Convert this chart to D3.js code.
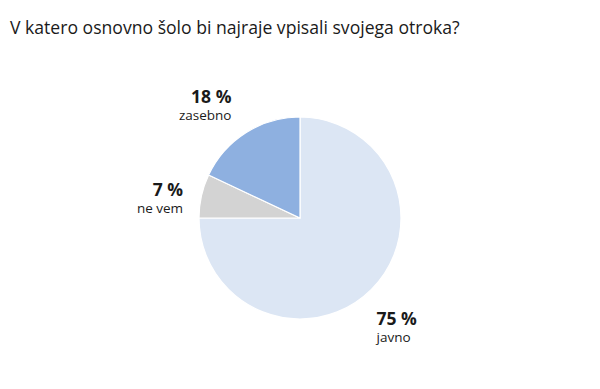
<!DOCTYPE html>
<html><head><meta charset="utf-8">
<script src="https://cdn.jsdelivr.net/npm/d3@7"></script>
<style>body{margin:0;background:#fff}svg{display:block}text{font-family:"Open Sans",sans-serif;fill:#1a1a1a}</style>
</head><body>
<script>
const title = "V katero osnovno šolo bi najraje vpisali svojega otroka?";
const categories = ["javno", "ne vem", "zasebno"];
const values = [75, 7, 18];
const colors = ["#dce6f4", "#d3d3d3", "#8eb0e0"];

const W = 600, H = 389, cx = 300, cy = 218, r = 101;
const svg = d3.select("body").append("svg").attr("width", W).attr("height", H);
svg.append("text").attr("x", 10).attr("y", 34).attr("font-size", 17.6).text(title);

const data = categories.map((c, i) => ({cat: c, val: values[i], col: colors[i]}));
const pie = d3.pie().value(d => d.val).sort(null);
const arcs = pie(data);
const arc = d3.arc().innerRadius(0).outerRadius(r);
const g = svg.append("g").attr("transform", `translate(${cx},${cy})`);
g.selectAll("path").data(arcs).join("path")
  .attr("d", arc).attr("fill", d => d.data.col)
  .attr("stroke", "#fff").attr("stroke-width", 1.2);

// label layout: radius and small nudges per slice side
const labelArc = d3.arc().innerRadius(128).outerRadius(128);
const nudge = [[-14, 16], [8, 6], [0, -7]];
arcs.forEach((a, i) => {
  const [x0, y0] = labelArc.centroid(a);
  const x = x0 + nudge[i][0], y = y0 + nudge[i][1];
  const anchor = x < 0 ? "end" : "start";
  const t = g.append("text").attr("text-anchor", anchor);
  t.append("tspan").attr("x", x).attr("y", y).attr("font-size", 17.5).attr("font-weight", "bold")
    .text(a.data.val + " %");
  t.append("tspan").attr("x", x).attr("y", y + 17).attr("font-size", 13.5).text(a.data.cat);
});
</script>
</body></html>
